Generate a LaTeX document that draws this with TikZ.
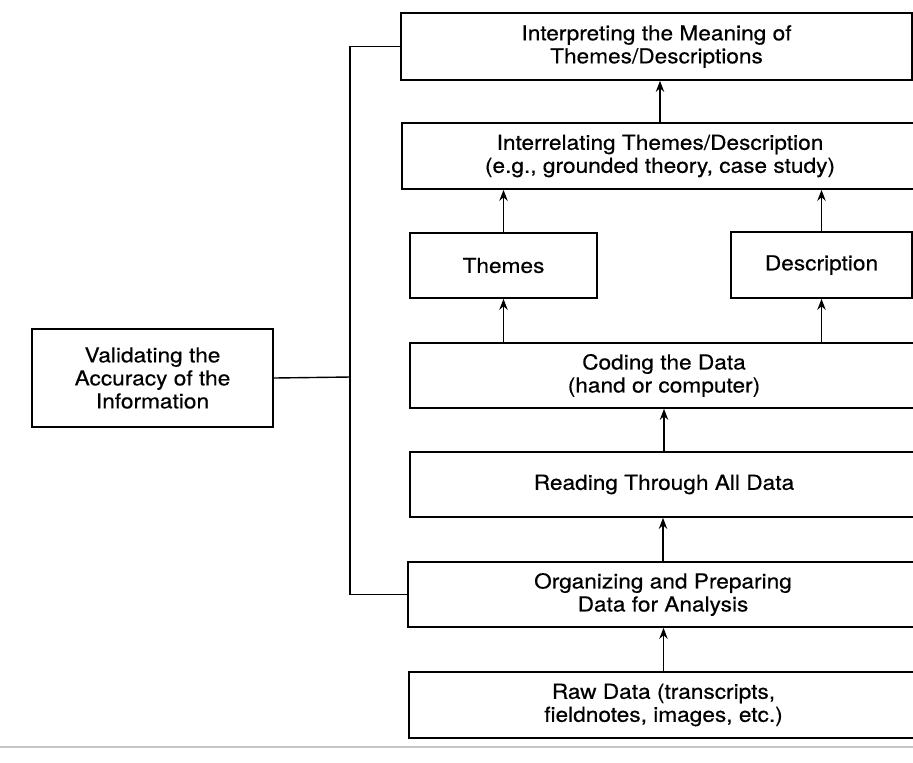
\documentclass[tikz,border=0pt]{standalone}
\usepackage{fontspec}
\setmainfont{TeX Gyre Heros}[FakeStretch=1.1, FakeBold=0.4]
\usetikzlibrary{arrows.meta}
\tikzset{
  box/.style={draw, line width=0.85pt, inner sep=0pt, align=center,
    font=\fontsize{10.3}{11.5}\selectfont},
}
\begin{document}
\begin{tikzpicture}[x=0.5pt, y=-0.5pt, line width=0.7pt, >={Stealth[length=5.5pt,width=4.2pt]}]
        \useasboundingbox (0,0) rectangle (913,762);
        % boxes
        \node[box, minimum width=255.5pt, minimum height=33.5pt] (interp) at (656.5,46.5) {Interpreting the Meaning of\\Themes/Descriptions};
        \node[box, minimum width=258pt, minimum height=33pt] (interrel) at (660,156) {Interrelating Themes/Description\\(e.g., grounded theory, case study)};
        \node[box, minimum width=93.5pt, minimum height=32.5pt] (themes) at (503.5,265.5) {Themes};
        \node[box, minimum width=90.5pt, minimum height=33pt] (descr) at (821.5,265) {Description};
        \node[box, minimum width=254pt, minimum height=32.5pt] (coding) at (664,375.5) {Coding the Data\\(hand or computer)};
        \node[box, minimum width=254pt, minimum height=32.5pt] (reading) at (664,484.5) {Reading Through All Data};
        \node[box, minimum width=255pt, minimum height=32.5pt] (organiz) at (663,594.5) {Organizing and Preparing\\Data for Analysis};
        \node[box, minimum width=254.5pt, minimum height=33pt] (rawdata) at (663.5,705) {Raw Data (transcripts,\\fieldnotes, images, etc.)};
        \node[box, minimum width=120.5pt, minimum height=49pt] (valid) at (152.5,378) {Validating the\\Accuracy of the\\Information};
        % arrows
        \draw[->] (rawdata.north) -- (rawdata.north |- organiz.south);
        \draw[->] (organiz.north) -- (organiz.north |- reading.south);
        \draw[->] (reading.north) -- (reading.north |- coding.south);
        \draw[->] (coding.north -| themes) -- (themes.south);
        \draw[->] (coding.north -| descr) -- (descr.south);
        \draw[->] (themes.north) -- (themes.north |- interrel.south);
        \draw[->] (descr.north) -- (descr.north |- interrel.south);
        \draw[->] (interrel.north) -- (interrel.north |- interp.south);
        % validating spine
        \coordinate (spine) at (350,377);
        \draw (valid.east) -- (spine);
        \draw (interp.west) -| (spine) |- (organiz.west);
        \draw[gray!45, line width=0.8pt] (0,747) -- (913,747);
    \end{tikzpicture}
\end{document}
